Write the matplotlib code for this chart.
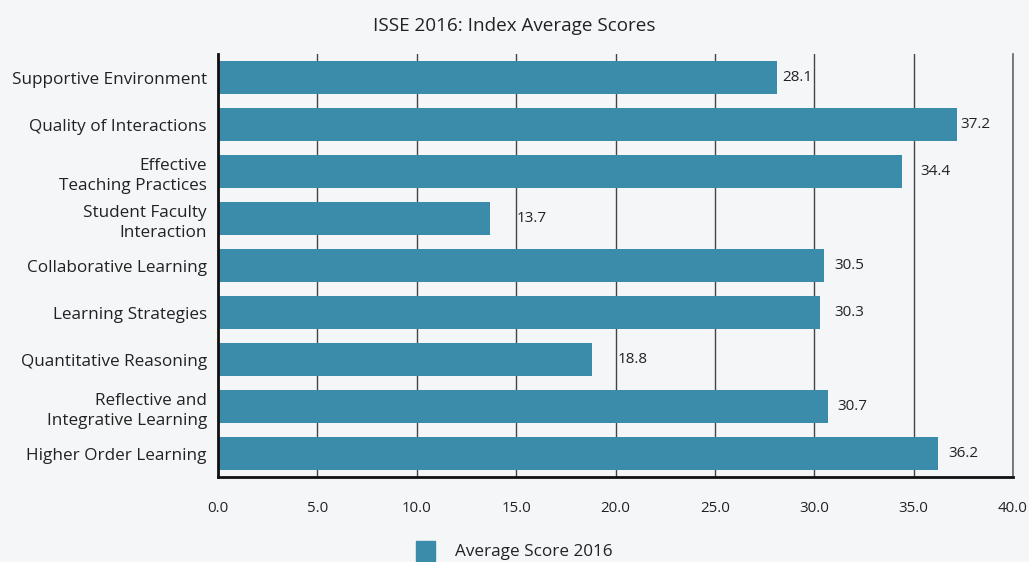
import matplotlib.pyplot as plt
import numpy as np

plt.rcParams['font.family'] = ['Open Sans', 'DejaVu Sans']

categories = ["Supportive Environment", "Quality of Interactions",
              "Effective\nTeaching Practices", "Student Faculty\nInteraction",
              "Collaborative Learning", "Learning Strategies",
              "Quantitative Reasoning", "Reflective and\nIntegrative Learning",
              "Higher Order Learning"]
scores = [28.1, 37.2, 34.4, 13.7, 30.5, 30.3, 18.8, 30.7, 36.2]
ticks = [0, 5, 10, 15, 20, 25, 30, 35, 40]

# label gaps (px) after bar end, as in the original
label_pad = [6, 3, 19, 26, 10, 14, 26, 9, 11]

bg = "#f5f6f8"
bar_color = "#3b8cab"
txt = "#222222"

fig = plt.figure(figsize=(10.29, 5.62), dpi=100, facecolor=bg)
ax = fig.add_axes([0.2119, 0.1512, 0.7726, 0.7527], facecolor=bg)

y = np.arange(len(categories))
ax.barh(y, scores, height=0.72, color=bar_color, zorder=3)
for yi, v, p in zip(y, scores, label_pad):
    ax.annotate("{:.1f}".format(v), (v, yi), xytext=(p, 0),
                textcoords="offset pixels", va="center", ha="left",
                fontsize=11, color=txt)

ax.set_ylim(len(categories) - 0.5, -0.5)
ax.set_xlim(0, 40)
ax.set_xticks(ticks)
ax.set_xticklabels(["{:.1f}".format(t) for t in ticks], fontsize=10.8, color=txt)
ax.set_yticks(y)
ax.set_yticklabels(categories, fontsize=12.3, color=txt, linespacing=1.4)
ax.tick_params(axis="x", length=0, pad=17)
ax.tick_params(axis="y", length=0, pad=8)

ax.grid(axis="x", color="#444444", linewidth=1.0, zorder=0)
ax.spines["top"].set_visible(False)
ax.spines["right"].set_color("#666666")
ax.spines["right"].set_linewidth(1.2)
ax.spines["left"].set_linewidth(2)
ax.spines["bottom"].set_linewidth(2)
ax.spines["left"].set_color("#111111")
ax.spines["bottom"].set_color("#111111")
ax.spines["left"].set_zorder(4)

fig.text(0.5, 0.953, "ISSE 2016: Index Average Scores", ha="center", va="center",
         fontsize=13.6, color=txt)

handle = plt.Rectangle((0, 0), 1, 1, color=bar_color)
fig.legend([handle], ["Average Score 2016"], loc="center", bbox_to_anchor=(0.5, 0.02),
           frameon=False, fontsize=12.3, handlelength=1.1, handleheight=1.4,
           handletextpad=1.2, labelcolor=txt, borderpad=0)

fig.savefig("out.png", dpi=100, facecolor=bg)
